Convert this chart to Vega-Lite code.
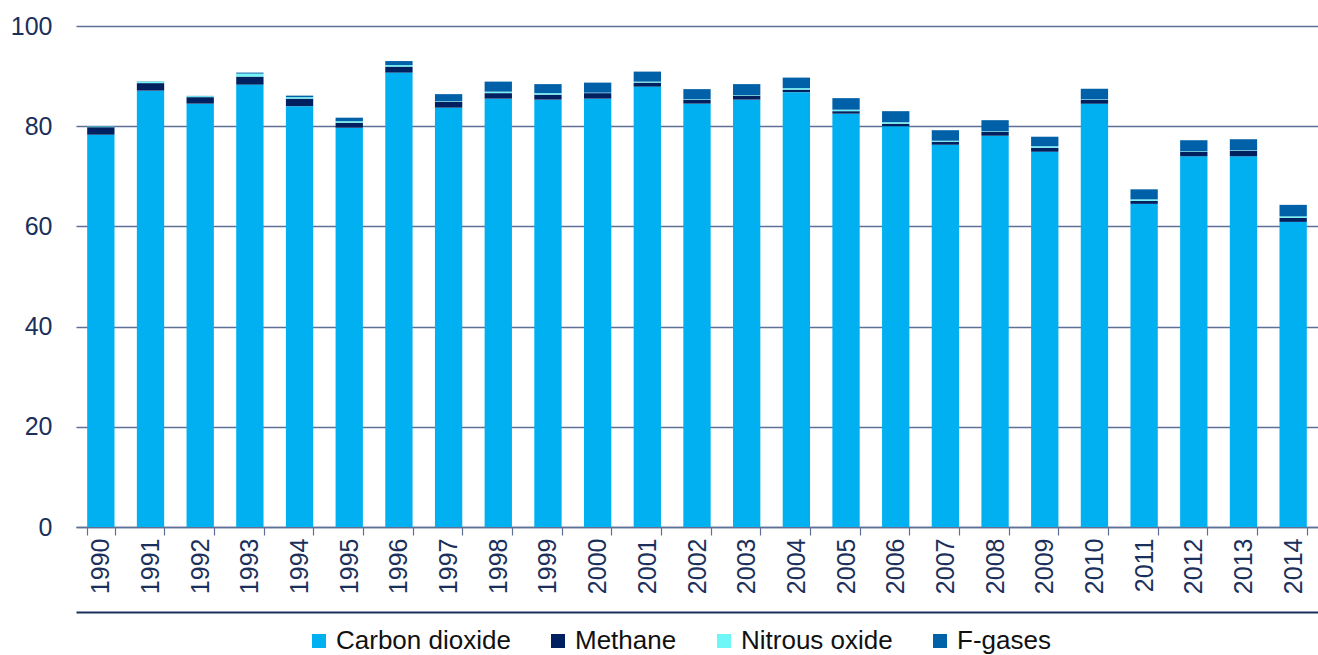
{
  "$schema": "https://vega.github.io/schema/vega-lite/v6.json",
  "autosize": {"type": "none"},
  "padding": {"left": 76, "top": 26, "right": 0, "bottom": 128},
  "width": 1242,
  "height": 501,
  "background": "white",
  "config": {
    "view": {"stroke": null},
    "font": "Liberation Sans",
    "axis": {"labelFont": "Liberation Sans", "labelFontSize": 25, "labelColor": "#1B2F5B"},
    "legend": {"labelFont": "Liberation Sans", "labelFontSize": 26, "labelColor": "#111111"}
  },
  "data": {
    "values": [
      {"year": "1990", "gas": "Carbon dioxide", "value": 78.3}, {"year": "1990", "gas": "Methane", "value": 1.5}, {"year": "1990", "gas": "Nitrous oxide", "value": 0.15}, {"year": "1990", "gas": "F-gases", "value": 0.05},
      {"year": "1991", "gas": "Carbon dioxide", "value": 87.1}, {"year": "1991", "gas": "Methane", "value": 1.5}, {"year": "1991", "gas": "Nitrous oxide", "value": 0.3}, {"year": "1991", "gas": "F-gases", "value": 0.05},
      {"year": "1992", "gas": "Carbon dioxide", "value": 84.5}, {"year": "1992", "gas": "Methane", "value": 1.3}, {"year": "1992", "gas": "Nitrous oxide", "value": 0.2}, {"year": "1992", "gas": "F-gases", "value": 0.05},
      {"year": "1993", "gas": "Carbon dioxide", "value": 88.3}, {"year": "1993", "gas": "Methane", "value": 1.6}, {"year": "1993", "gas": "Nitrous oxide", "value": 0.6}, {"year": "1993", "gas": "F-gases", "value": 0.2},
      {"year": "1994", "gas": "Carbon dioxide", "value": 84.0}, {"year": "1994", "gas": "Methane", "value": 1.5}, {"year": "1994", "gas": "Nitrous oxide", "value": 0.3}, {"year": "1994", "gas": "F-gases", "value": 0.3},
      {"year": "1995", "gas": "Carbon dioxide", "value": 79.7}, {"year": "1995", "gas": "Methane", "value": 1.0}, {"year": "1995", "gas": "Nitrous oxide", "value": 0.3}, {"year": "1995", "gas": "F-gases", "value": 0.7},
      {"year": "1996", "gas": "Carbon dioxide", "value": 90.7}, {"year": "1996", "gas": "Methane", "value": 1.2}, {"year": "1996", "gas": "Nitrous oxide", "value": 0.3}, {"year": "1996", "gas": "F-gases", "value": 0.8},
      {"year": "1997", "gas": "Carbon dioxide", "value": 83.7}, {"year": "1997", "gas": "Methane", "value": 1.2}, {"year": "1997", "gas": "Nitrous oxide", "value": 0.1}, {"year": "1997", "gas": "F-gases", "value": 1.4},
      {"year": "1998", "gas": "Carbon dioxide", "value": 85.5}, {"year": "1998", "gas": "Methane", "value": 1.1}, {"year": "1998", "gas": "Nitrous oxide", "value": 0.3}, {"year": "1998", "gas": "F-gases", "value": 2.0},
      {"year": "1999", "gas": "Carbon dioxide", "value": 85.3}, {"year": "1999", "gas": "Methane", "value": 1.0}, {"year": "1999", "gas": "Nitrous oxide", "value": 0.3}, {"year": "1999", "gas": "F-gases", "value": 1.8},
      {"year": "2000", "gas": "Carbon dioxide", "value": 85.5}, {"year": "2000", "gas": "Methane", "value": 1.1}, {"year": "2000", "gas": "Nitrous oxide", "value": 0.1}, {"year": "2000", "gas": "F-gases", "value": 2.0},
      {"year": "2001", "gas": "Carbon dioxide", "value": 87.9}, {"year": "2001", "gas": "Methane", "value": 0.8}, {"year": "2001", "gas": "Nitrous oxide", "value": 0.2}, {"year": "2001", "gas": "F-gases", "value": 2.0},
      {"year": "2002", "gas": "Carbon dioxide", "value": 84.5}, {"year": "2002", "gas": "Methane", "value": 0.8}, {"year": "2002", "gas": "Nitrous oxide", "value": 0.1}, {"year": "2002", "gas": "F-gases", "value": 2.0},
      {"year": "2003", "gas": "Carbon dioxide", "value": 85.3}, {"year": "2003", "gas": "Methane", "value": 0.8}, {"year": "2003", "gas": "Nitrous oxide", "value": 0.1}, {"year": "2003", "gas": "F-gases", "value": 2.2},
      {"year": "2004", "gas": "Carbon dioxide", "value": 86.8}, {"year": "2004", "gas": "Methane", "value": 0.5}, {"year": "2004", "gas": "Nitrous oxide", "value": 0.3}, {"year": "2004", "gas": "F-gases", "value": 2.1},
      {"year": "2005", "gas": "Carbon dioxide", "value": 82.5}, {"year": "2005", "gas": "Methane", "value": 0.5}, {"year": "2005", "gas": "Nitrous oxide", "value": 0.3}, {"year": "2005", "gas": "F-gases", "value": 2.3},
      {"year": "2006", "gas": "Carbon dioxide", "value": 80.0}, {"year": "2006", "gas": "Methane", "value": 0.5}, {"year": "2006", "gas": "Nitrous oxide", "value": 0.3}, {"year": "2006", "gas": "F-gases", "value": 2.2},
      {"year": "2007", "gas": "Carbon dioxide", "value": 76.3}, {"year": "2007", "gas": "Methane", "value": 0.6}, {"year": "2007", "gas": "Nitrous oxide", "value": 0.2}, {"year": "2007", "gas": "F-gases", "value": 2.1},
      {"year": "2008", "gas": "Carbon dioxide", "value": 78.1}, {"year": "2008", "gas": "Methane", "value": 0.8}, {"year": "2008", "gas": "Nitrous oxide", "value": 0.1}, {"year": "2008", "gas": "F-gases", "value": 2.2},
      {"year": "2009", "gas": "Carbon dioxide", "value": 74.9}, {"year": "2009", "gas": "Methane", "value": 0.8}, {"year": "2009", "gas": "Nitrous oxide", "value": 0.3}, {"year": "2009", "gas": "F-gases", "value": 1.9},
      {"year": "2010", "gas": "Carbon dioxide", "value": 84.5}, {"year": "2010", "gas": "Methane", "value": 0.8}, {"year": "2010", "gas": "Nitrous oxide", "value": 0.1}, {"year": "2010", "gas": "F-gases", "value": 2.1},
      {"year": "2011", "gas": "Carbon dioxide", "value": 64.5}, {"year": "2011", "gas": "Methane", "value": 0.6}, {"year": "2011", "gas": "Nitrous oxide", "value": 0.3}, {"year": "2011", "gas": "F-gases", "value": 2.0},
      {"year": "2012", "gas": "Carbon dioxide", "value": 74.0}, {"year": "2012", "gas": "Methane", "value": 0.9}, {"year": "2012", "gas": "Nitrous oxide", "value": 0.1}, {"year": "2012", "gas": "F-gases", "value": 2.2},
      {"year": "2013", "gas": "Carbon dioxide", "value": 74.0}, {"year": "2013", "gas": "Methane", "value": 1.1}, {"year": "2013", "gas": "Nitrous oxide", "value": 0.1}, {"year": "2013", "gas": "F-gases", "value": 2.2},
      {"year": "2014", "gas": "Carbon dioxide", "value": 60.9}, {"year": "2014", "gas": "Methane", "value": 0.8}, {"year": "2014", "gas": "Nitrous oxide", "value": 0.3}, {"year": "2014", "gas": "F-gases", "value": 2.3}
    ]
  },
  "transform": [
    {"calculate": "indexof(['Carbon dioxide', 'Methane', 'Nitrous oxide', 'F-gases'], datum.gas)", "as": "stackOrder"}
  ],
  "layer": [
    {
      "mark": {"type": "bar"},
      "encoding": {
        "x": {
          "field": "year", "type": "nominal",
          "scale": {"paddingInner": 0.45, "paddingOuter": 0.225},
          "axis": {
            "title": null, "orient": "bottom", "labelAngle": -90, "labelPadding": 3,
            "domainColor": "#5F7096", "domainWidth": 1.5,
            "tickColor": "#5F7096", "tickWidth": 1.2, "tickSize": 8, "tickBand": "extent",
            "grid": false
          }
        },
        "y": {
          "field": "value", "type": "quantitative", "stack": "zero",
          "scale": {"domain": [0, 100], "nice": false},
          "axis": {
            "title": null, "values": [0, 20, 40, 60, 80, 100],
            "domain": false, "ticks": false, "labelPadding": 24,
            "grid": true, "gridColor": "#5F7096", "gridWidth": 1.3
          }
        },
        "color": {
          "field": "gas", "type": "nominal",
          "scale": {
            "domain": ["Carbon dioxide", "Methane", "Nitrous oxide", "F-gases"],
            "range": ["#00B0F0", "#002060", "#6FF6F6", "#0060A8"]
          },
          "legend": {
            "title": null, "orient": "none", "direction": "horizontal",
            "legendX": 230, "legendY": 602, "padding": 0,
            "symbolType": "square", "symbolSize": 196, "symbolStrokeWidth": 0,
            "labelOffset": 4, "columnPadding": 34, "labelLimit": 400
          }
        },
        "order": {"field": "stackOrder", "type": "quantitative"}
      }
    },
    {
      "mark": {"type": "tick", "opacity": 0},
      "encoding": {
        "x": {
          "field": "year", "type": "nominal",
          "axis": {
            "title": null, "orient": "bottom", "offset": 85, "labels": false, "ticks": false,
            "domainColor": "#1B2F5B", "domainWidth": 2.2, "grid": false
          }
        },
        "y": {"field": "value", "type": "quantitative", "aggregate": "max"}
      }
    }
  ],
  "resolve": {"axis": {"x": "independent"}}
}
